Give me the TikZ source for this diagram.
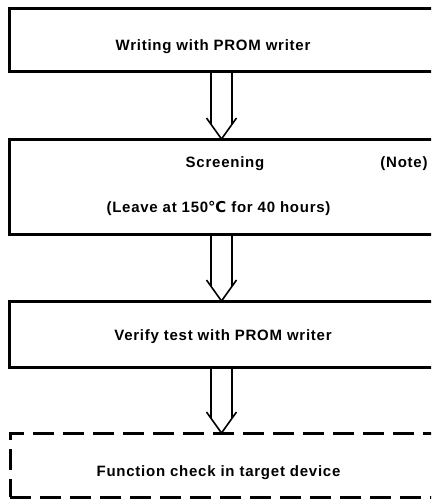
\documentclass[tikz,border=0pt]{standalone}
\usepackage{fontspec}
\setmainfont{Liberation Sans}[LetterSpace=5]
\newfontfamily\dejavu{DejaVu Sans}
\usetikzlibrary{calc}
\newcommand\hollowarrow[2]{%
  \coordinate (s) at (#1.south -| ax);
  \coordinate (t) at (#2.north -| ax);
  \draw[arr] ($(s)+(-10.5,0)$) -- ($(t)+(-10.5,-14.7)$);
  \draw[arr] ($(s)+(10.5,0)$) -- ($(t)+(10.5,-14.7)$);
  \draw[arr] ($(t)+(-15,-21)$) -- (t) -- ($(t)+(15,-21)$);
}
\begin{document}
\begin{tikzpicture}[x=1pt,y=-1pt,
  box/.style={draw, line width=3pt, outer sep=0pt, inner sep=0pt,
    anchor=north west, minimum width=440pt},
  dbox/.style={box, dash pattern=on 21pt off 9pt},
  arr/.style={line width=1.6pt, line join=miter},
  lbl/.style={inner sep=0pt, anchor=base, font=\fontsize{15}{18}\selectfont\bfseries}]
\clip (0,0) rectangle (431,500);
\coordinate (ax) at (221.5,0);
\node[box, minimum height=63pt] (b1) at (9,9) {};
\node[box, minimum height=95pt] (b2) at (9,139) {};
\node[box, minimum height=66pt] (b3) at (9,301) {};
\node[dbox, minimum height=64pt] (b4) at (10,433) {};
\node[lbl] (t1) at (213,50.7) {Writing with PROM writer};
\node[lbl] (t2) at (225,167) {Screening};
\node[lbl] (t2n) at (404,167) {(Note)};
\node[lbl] (t2b) at (218.5,212.7) {(Leave at 150{\dejavu ℃} for 40 hours)};
\node[lbl] (t3) at (223,340) {Verify test with PROM writer};
\node[lbl] (t4) at (218.5,476) {Function check in target device};
\hollowarrow{b1}{b2}
\hollowarrow{b2}{b3}
\hollowarrow{b3}{b4}
\end{tikzpicture}
\end{document}
